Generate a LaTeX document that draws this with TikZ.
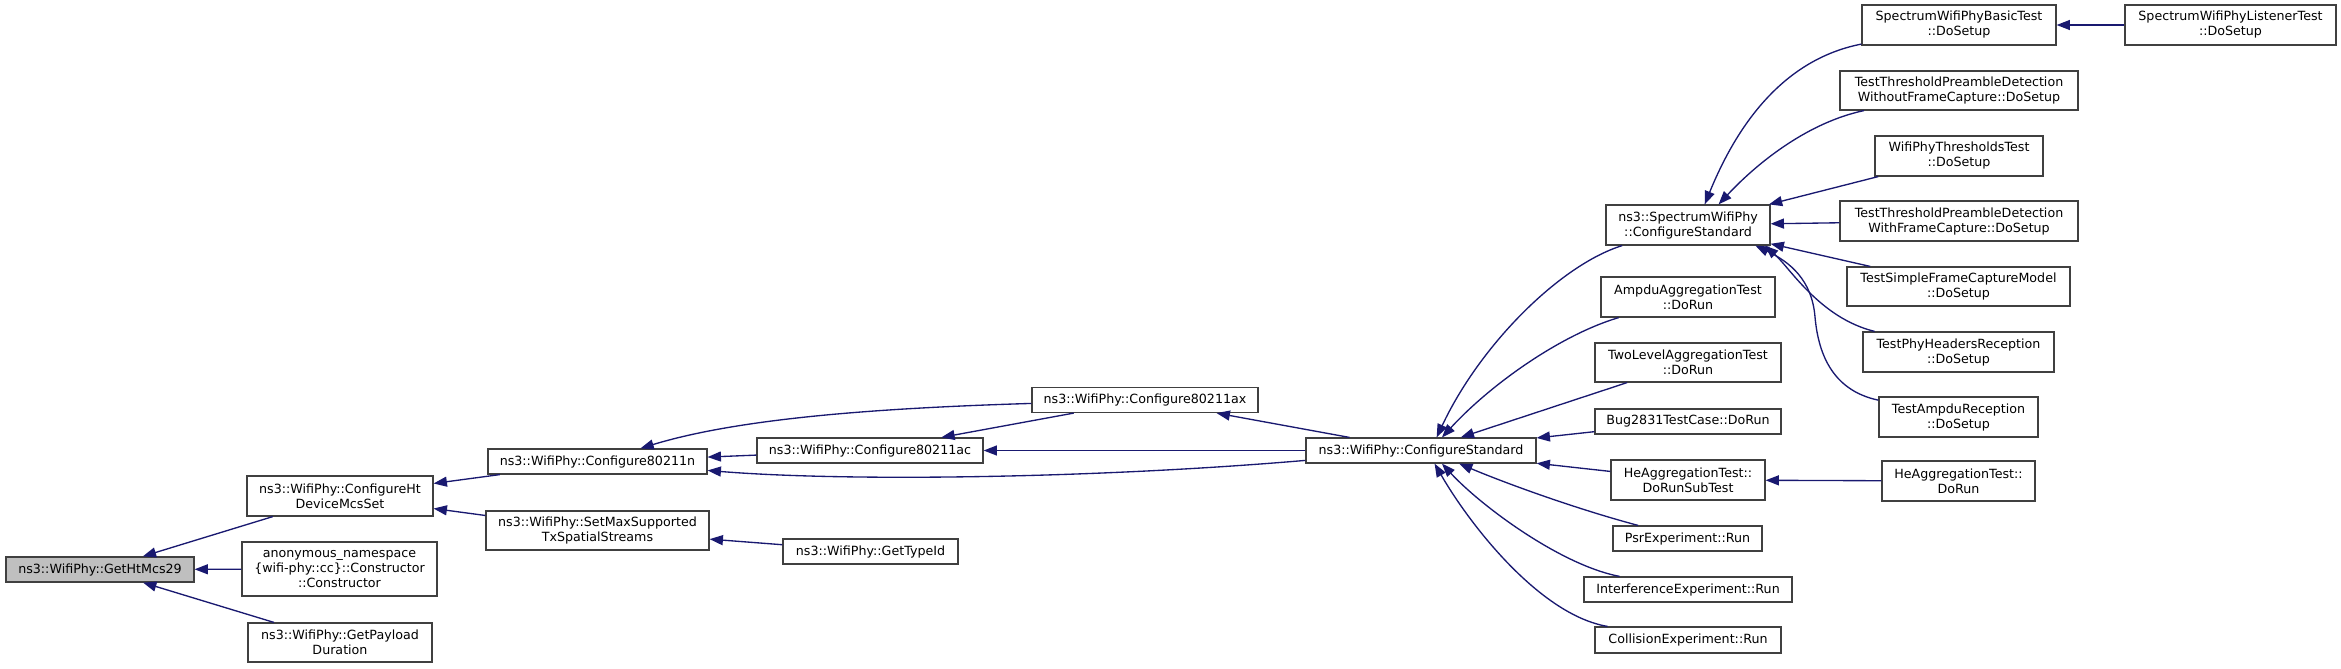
\documentclass[tikz,border=0pt]{standalone}
\usepackage{fontspec}
\setmainfont{DejaVu Sans}
\usetikzlibrary{arrows.meta}
\definecolor{callblue}{HTML}{191970}
\definecolor{curgray}{HTML}{BFBFBF}
\tikzset{
  fnnode/.style = {align=center, inner sep=0pt, text centered, font=\fontsize{9.5}{11.25}\selectfont},
  fn_box/.style 2 args = {fnnode, rectangle, draw=black!75, line width=0.9pt, minimum width=#1*0.75pt, minimum height=#2*0.75pt},
  fn_cur/.style 2 args = {fn_box={#1}{#2}, fill=curgray},
  call/.style = {draw=callblue, line width=1pt, -{Triangle[length=10pt, width=7.5pt]}},
}
\begin{document}
\begin{tikzpicture}[x=0.75pt, y=-0.75pt]
  \useasboundingbox (0,0) rectangle (2341,668);
  \node [fn_cur={188}{25}] (htmcs) at (100,569.5) {ns3::WifiPhy::GetHtMcs29};
  \node [fn_box={186}{40}] (htdev) at (340,496) {ns3::WifiPhy::ConfigureHt\\DeviceMcsSet};
  \node [fn_box={195}{54}] (anon) at (339.5,569) {anonymous\_namespace\\\{wifi-phy::cc\}::Constructor\\::Constructor};
  \node [fn_box={184}{39}] (payload) at (340,642.5) {ns3::WifiPhy::GetPayload\\Duration};
  \node [fn_box={219}{25}] (n11n) at (597.5,461.5) {ns3::WifiPhy::Configure80211n};
  \node [fn_box={223}{39}] (maxss) at (597.5,530.5) {ns3::WifiPhy::SetMaxSupported\\TxSpatialStreams};
  \node [fn_box={226}{25}] (n11ac) at (870,450.5) {ns3::WifiPhy::Configure80211ac};
  \node [fn_box={175}{25}] (typeid) at (870.5,551.5) {ns3::WifiPhy::GetTypeId};
  \node [fn_box={226}{25}] (n11ax) at (1145,400) {ns3::WifiPhy::Configure80211ax};
  \node [fn_box={230}{25}] (wcs) at (1421,450.5) {ns3::WifiPhy::ConfigureStandard};
  \node [fn_box={164}{40}] (scs) at (1688,225) {ns3::SpectrumWifiPhy\\::ConfigureStandard};
  \node [fn_box={174}{40}] (ampdu) at (1688,297) {AmpduAggregationTest\\::DoRun};
  \node [fn_box={186}{39}] (twolevel) at (1688,362.5) {TwoLevelAggregationTest\\::DoRun};
  \node [fn_box={186}{25}] (bug) at (1688,421.5) {Bug2831TestCase::DoRun};
  \node [fn_box={154}{40}] (subtest) at (1688,480) {HeAggregationTest::\\DoRunSubTest};
  \node [fn_box={149}{25}] (psr) at (1687.5,538.5) {PsrExperiment::Run};
  \node [fn_box={208}{25}] (interf) at (1688,589.5) {InterferenceExperiment::Run};
  \node [fn_box={186}{26}] (collision) at (1688,640) {CollisionExperiment::Run};
  \node [fn_box={194}{40}] (basic) at (1959,25) {SpectrumWifiPhyBasicTest\\::DoSetup};
  \node [fn_box={238}{39}] (without) at (1959,90.5) {TestThresholdPreambleDetection\\WithoutFrameCapture::DoSetup};
  \node [fn_box={168}{40}] (thresholds) at (1959,156) {WifiPhyThresholdsTest\\::DoSetup};
  \node [fn_box={238}{40}] (withfc) at (1959,221) {TestThresholdPreambleDetection\\WithFrameCapture::DoSetup};
  \node [fn_box={223}{39}] (simplefc) at (1958.5,286.5) {TestSimpleFrameCaptureModel\\::DoSetup};
  \node [fn_box={191}{40}] (phyhdr) at (1958.5,352) {TestPhyHeadersReception\\::DoSetup};
  \node [fn_box={159}{40}] (ampdurx) at (1958.5,417) {TestAmpduReception\\::DoSetup};
  \node [fn_box={153}{40}] (herun) at (1958.5,481) {HeAggregationTest::\\DoRun};
  \node [fn_box={211}{40}] (listener) at (2230.5,25) {SpectrumWifiPhyListenerTest\\::DoSetup};

  \draw [call] (htdev) -- (htmcs);
  \draw [call] (anon) -- (htmcs);
  \draw [call] (payload) -- (htmcs);
  \draw [call] (n11n) -- (htdev);
  \draw [call] (maxss) -- (htdev);
  \draw [call] (n11ac) -- (n11n);
  \draw [call] (n11ax) .. controls (880,408) and (740,418) .. (n11n);
  \draw [call] (wcs) .. controls (1100,478) and (850,482) .. (n11n);
  \draw [call] (typeid) -- (maxss);
  \draw [call] (wcs) -- (n11ax);
  \draw [call] (n11ax) -- (n11ac);
  \draw [call] (wcs) -- (n11ac);
  \draw [call] (scs) .. controls (1560,265) and (1480,345) .. (wcs.40);
  \draw [call] (ampdu) .. controls (1560,335) and (1490,385) .. (wcs.32);
  \draw [call] (twolevel) -- (wcs);
  \draw [call] (bug) -- (wcs);
  \draw [call] (subtest) -- (wcs);
  \draw [call] (psr) .. controls (1580,510) and (1510,485) .. (wcs.-19);
  \draw [call] (interf) .. controls (1560,565) and (1480,505) .. (wcs.-32);
  \draw [call] (collision) .. controls (1540,615) and (1470,525) .. (wcs.-44);
  \draw [call] (herun) -- (subtest);
  \draw [call] (basic) .. controls (1780,60) and (1735,130) .. (scs.51);
  \draw [call] (without) .. controls (1810,122) and (1760,160) .. (scs.34);
  \draw [call] (thresholds) -- (scs);
  \draw [call] (withfc) -- (scs);
  \draw [call] (simplefc) -- (scs);
  \draw [call] (phyhdr) .. controls (1820,318) and (1790,268) .. (scs.-15);
  \draw [call] (ampdurx) .. controls (1830,390) and (1818,350) .. (1815,317) .. controls (1812,280) and (1790,262) .. (scs.-17);
  \draw [call] (listener) -- (basic);
\end{tikzpicture}
\end{document}
